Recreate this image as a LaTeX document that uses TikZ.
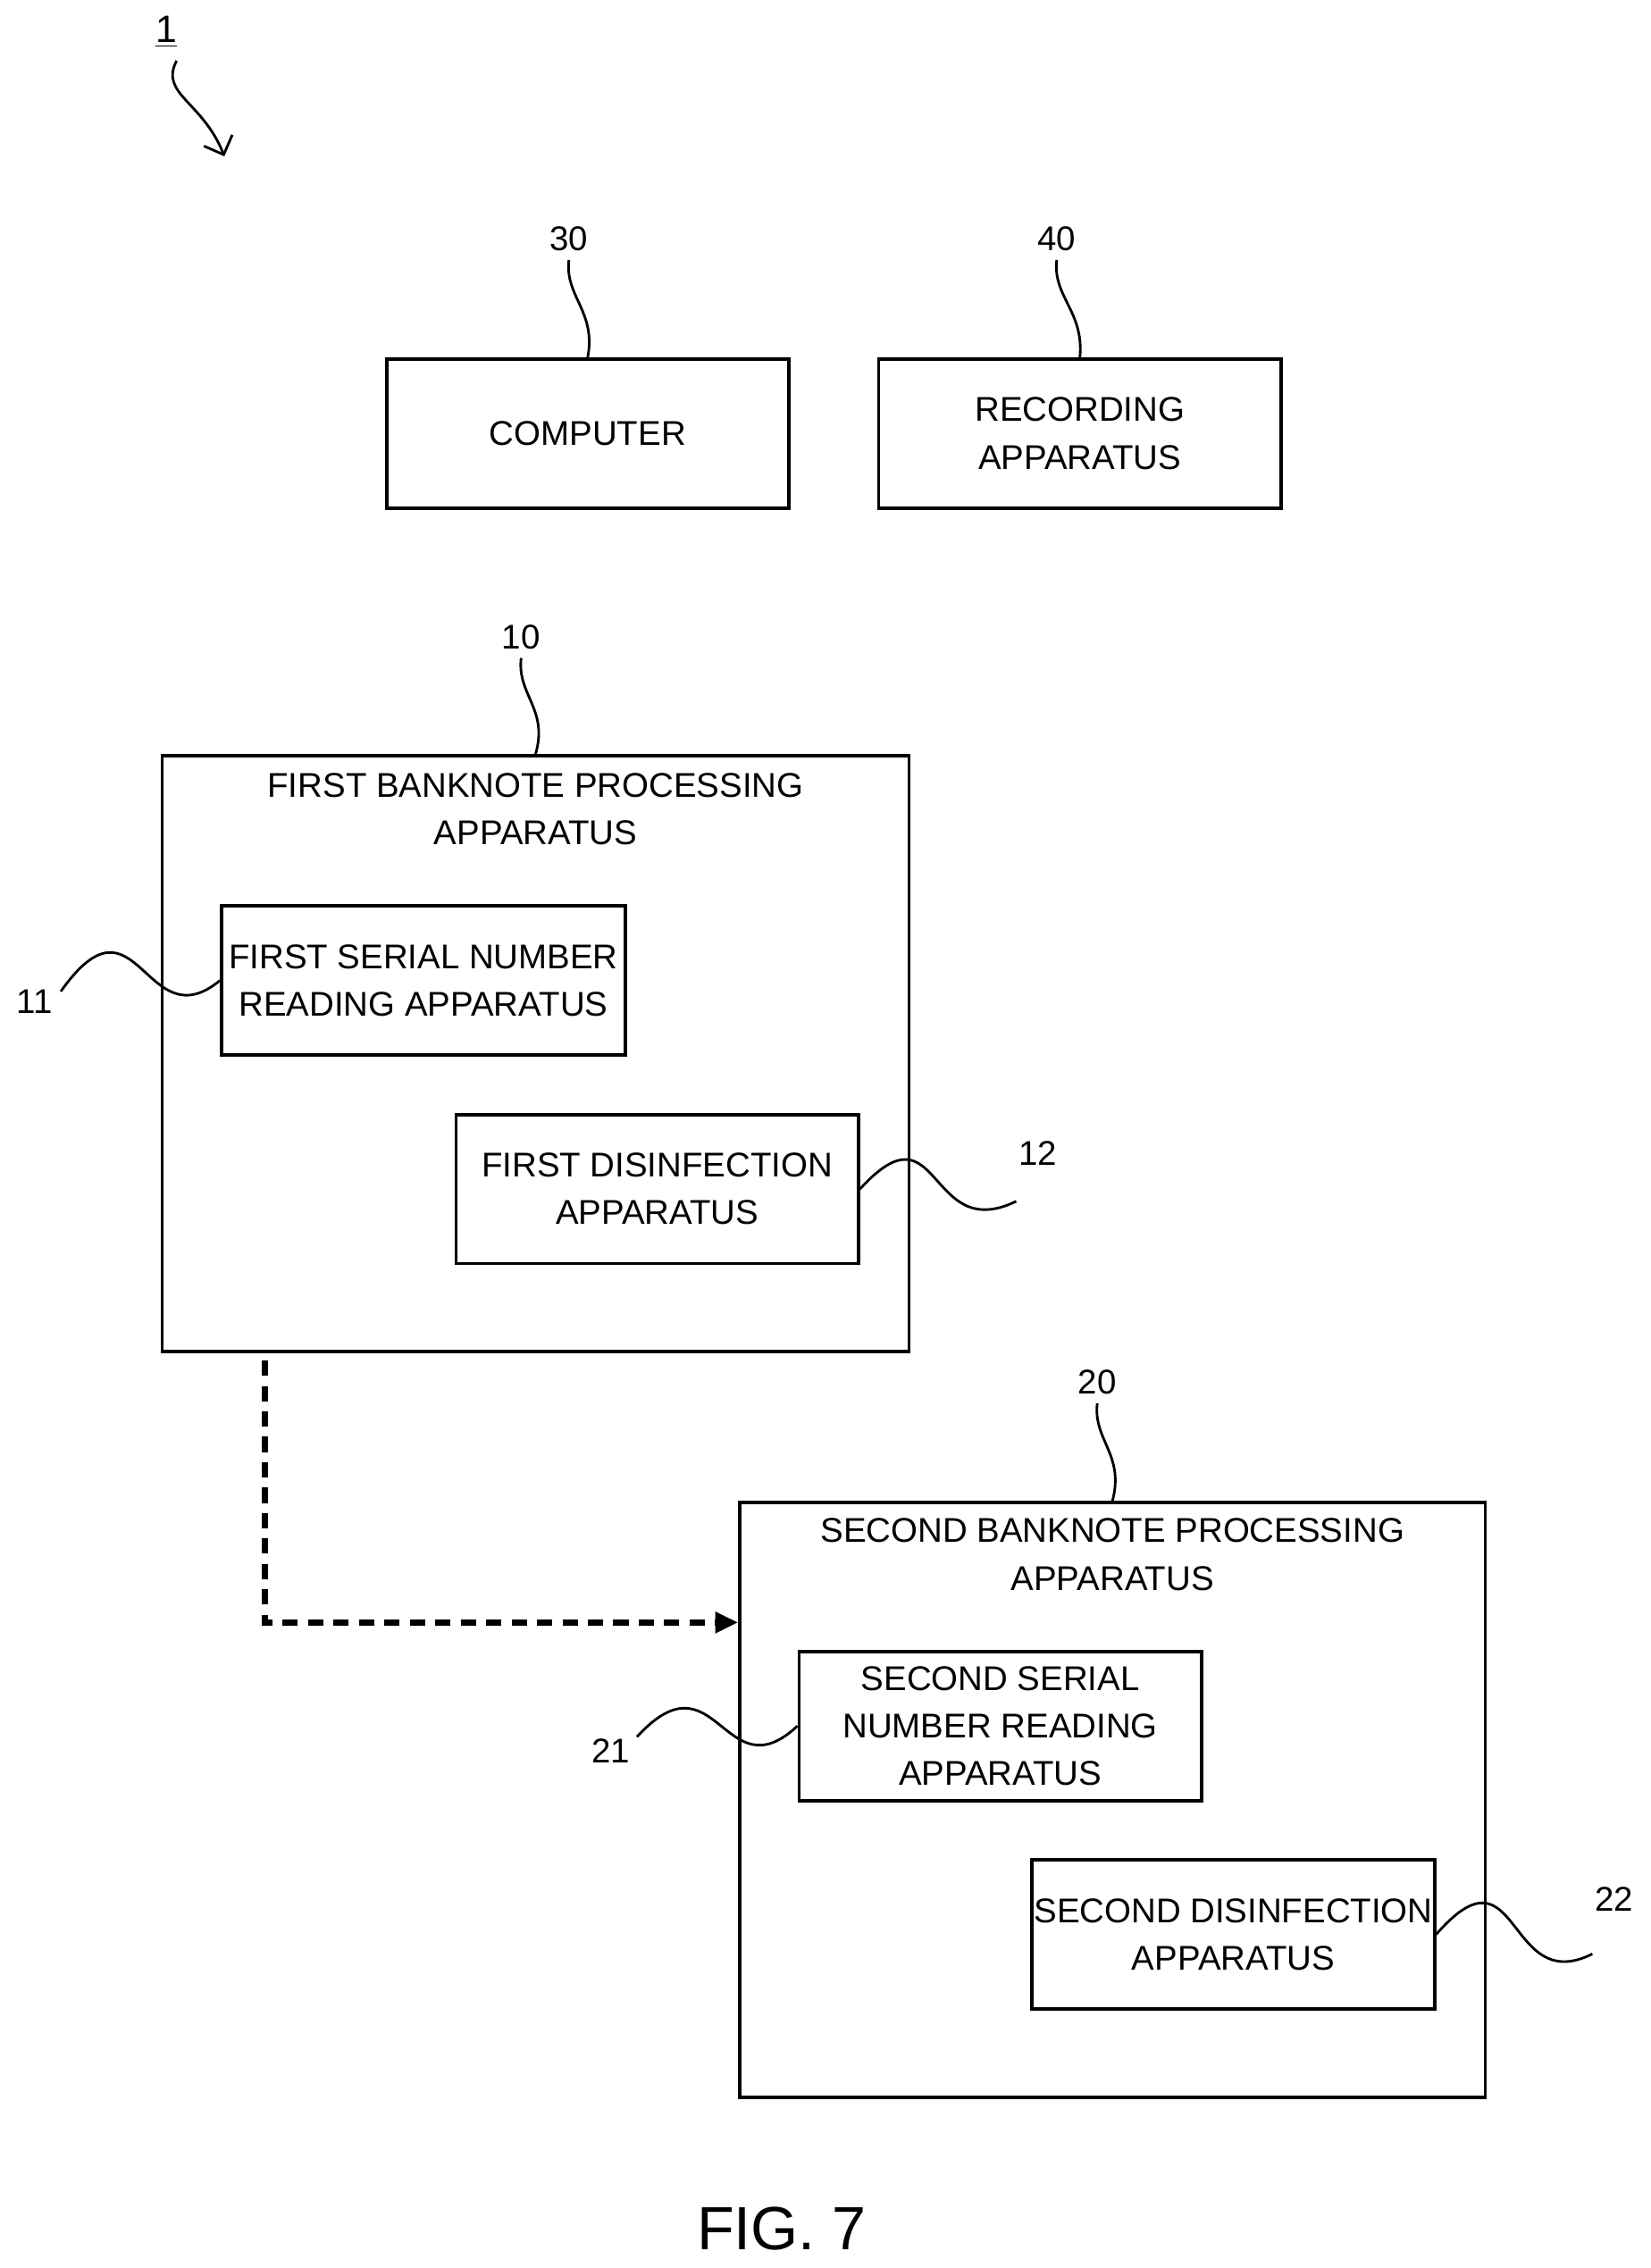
\documentclass[tikz,border=0pt]{standalone}
\usepackage{fontspec}
\setmainfont{Liberation Sans}
\usetikzlibrary{arrows.meta}
\begin{document}
\begin{tikzpicture}[x=0.02cm,y=-0.02cm,
  box/.style={draw,line width=1.3pt,inner sep=0},
  txt/.style={font=\fontsize{13.5}{18.7}\selectfont,align=center},
  sq/.style={line width=1pt}]
\useasboundingbox (0,0) rectangle (1140,1567);
% boxes
\node[box,minimum width=5.56cm,minimum height=2.06cm] (c30) at (406,299.5) {};
\node[txt] at (c30) {COMPUTER};
\node[box,minimum width=5.56cm,minimum height=2.06cm] (c40) at (746,299.5) {};
\node[txt] at (c40) {RECORDING\\APPARATUS};
\node[box,minimum width=10.32cm,minimum height=8.24cm] (c10) at (370,728) {};
\node[txt] at (370,559) {FIRST BANKNOTE PROCESSING\\APPARATUS};
\node[box,minimum width=5.58cm,minimum height=2.06cm] (c11) at (292.5,677.5) {};
\node[txt] at (c11) {FIRST SERIAL NUMBER\\READING APPARATUS};
\node[box,minimum width=5.56cm,minimum height=2.06cm] (c12) at (454,821.5) {};
\node[txt] at (c12) {FIRST DISINFECTION\\APPARATUS};
\node[box,minimum width=10.3cm,minimum height=8.22cm] (c20) at (768.5,1243.5) {};
\node[txt] at (768.5,1074) {SECOND BANKNOTE PROCESSING\\APPARATUS};
\node[box,minimum width=5.56cm,minimum height=2.06cm] (c21) at (691,1192.5) {};
\node[txt] at (c21) {SECOND SERIAL\\NUMBER READING\\APPARATUS};
\node[box,minimum width=5.56cm,minimum height=2.06cm] (c22) at (852,1336.5) {};
\node[txt] at (c22) {SECOND DISINFECTION\\APPARATUS};
% dashed arrow
\coordinate (d1) at (183,940);
\coordinate (d2) at (183,1121);
\draw[line width=2.5pt,dash pattern=on 6pt off 4pt,-{Triangle[length=9pt,width=8pt]}] (d1) -- (d2) -- (c20.west |- d2);
% labels
\node[txt,font=\fontsize{15}{18}\selectfont] (l1) at (115,22) {\underline{1}};
\coordinate (a1) at (155,108);
\draw[sq,-{Straight Barb[length=6pt]}] (122,42) .. controls (110,65) and (140,70) .. (a1);
\node[txt] (l30) at (393,165) {30};
\draw[sq] (l30.south) .. controls (390,205) and (412,215) .. (c30.north);
\node[txt] (l40) at (730,165) {40};
\draw[sq] (l40.south) .. controls (727,205) and (749,215) .. (c40.north);
\node[txt] (l10) at (360,440) {10};
\draw[sq] (l10.south) .. controls (357,480) and (379,490) .. (c10.north);
\node[txt] (l20) at (758,955) {20};
\draw[sq] (l20.south) .. controls (755,995) and (777,1005) .. (c20.north);
\node[txt] (l11) at (24,692) {11};
\draw[sq] (42,685) .. controls (95,610) and (100,720) .. (c11.west);
\node[txt] (l12) at (717,797) {12};
\draw[sq] (c12.east) .. controls (650,760) and (640,860) .. (702,830);
\node[txt] (l21) at (422,1210) {21};
\draw[sq] (440,1200) .. controls (495,1140) and (500,1240) .. (c21.west);
\node[txt] (l22) at (1115,1312) {22};
\draw[sq] (c22.east) .. controls (1050,1270) and (1040,1380) .. (1100,1350);
\node[font=\fontsize{24}{28}\selectfont] at (540,1540) {FIG. 7};
\end{tikzpicture}
\end{document}
